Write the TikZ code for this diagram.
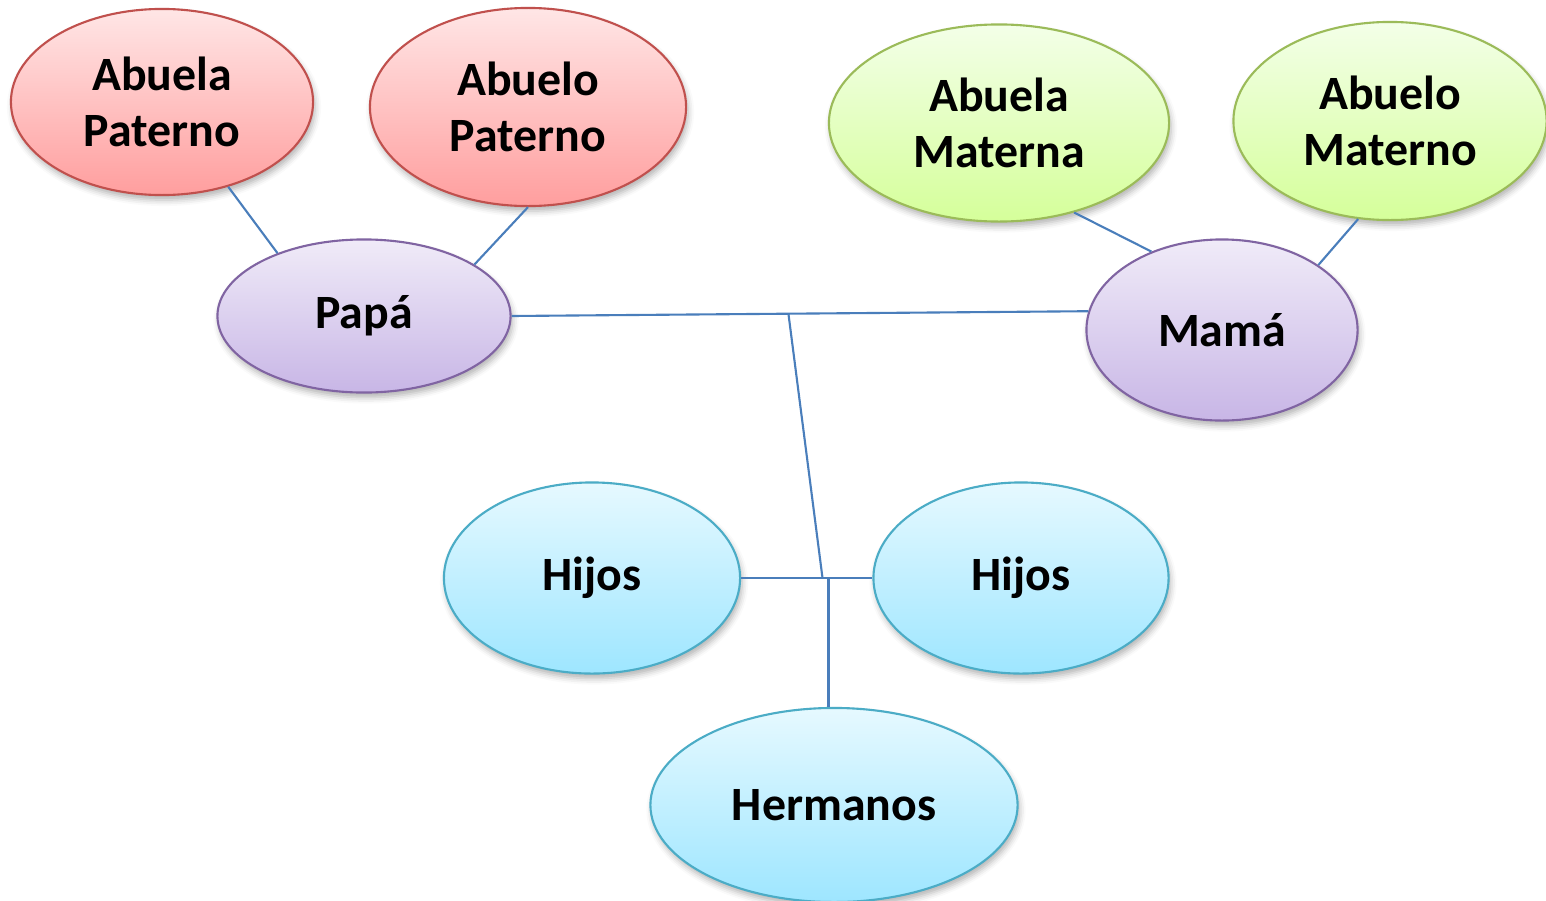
\documentclass[tikz,border=0pt]{standalone}
\usepackage{fontspec}
\setmainfont{Carlito}
\usetikzlibrary{shapes.geometric,shadows.blur,calc}
\definecolor{lineblue}{HTML}{4A7EBB}
\definecolor{redline}{HTML}{C0504D}
\definecolor{redtop}{HTML}{FFE6E6}
\definecolor{redbot}{HTML}{FF9E9E}
\definecolor{greenline}{HTML}{9BBB59}
\definecolor{greentop}{HTML}{F3FFE8}
\definecolor{greenbot}{HTML}{D5FF9A}
\definecolor{purpleline}{HTML}{8064A2}
\definecolor{purpletop}{HTML}{F0EBF8}
\definecolor{purplebot}{HTML}{C8B6E6}
\definecolor{blueline}{HTML}{4BACC6}
\definecolor{bluetop}{HTML}{E6F9FF}
\definecolor{bluebot}{HTML}{9EE6FF}
\begin{document}
\begin{tikzpicture}[x=0.01cm,y=-0.01cm,
    person/.style={ellipse,inner sep=0pt,line width=0.6pt,align=center,
        font=\fontsize{13.6}{16}\selectfont\bfseries,
        blur shadow={shadow xshift=0.02cm,shadow yshift=-0.05cm,shadow blur radius=0.06cm,shadow opacity=30}},
    paterno/.style={person,draw=redline,top color=redtop,bottom color=redbot},
    materno/.style={person,draw=greenline,top color=greentop,bottom color=greenbot},
    padre/.style={person,draw=purpleline,top color=purpletop,bottom color=purplebot},
    hijo/.style={person,draw=blueline,top color=bluetop,bottom color=bluebot},
    link/.style={draw=lineblue,line width=0.6pt}]
    \useasboundingbox (0,0) rectangle (1546,900);
    %% abuelos
    \node[paterno,minimum width=3.02cm,minimum height=1.86cm] (abuelaP) at (162,102) {Abuela\\Paterno};
    \node[paterno,minimum width=3.16cm,minimum height=1.98cm] (abueloP) at (528,107) {Abuelo\\Paterno};
    \node[materno,minimum width=3.40cm,minimum height=1.97cm] (abuelaM) at (999,123) {Abuela\\Materna};
    \node[materno,minimum width=3.13cm,minimum height=1.98cm] (abueloM) at (1390,121) {Abuelo\\Materno};
    %% padres
    \node[padre,minimum width=2.93cm,minimum height=1.53cm] (papa) at (364,316) {Papá};
    \node[padre,minimum width=2.71cm,minimum height=1.81cm] (mama) at (1222,330) {Mamá};
    %% hijos
    \node[hijo,minimum width=2.96cm,minimum height=1.91cm] (hijo1) at (592,578) {Hijos};
    \node[hijo,minimum width=2.95cm,minimum height=1.91cm] (hijo2) at (1021,578) {Hijos};
    \node[hijo,minimum width=3.67cm,minimum height=1.94cm] (hermanos) at (834,805) {Hermanos};
    %% lineas
    \draw[link] (abuelaP.-52) -- (papa.144);
    \draw[link] (abueloP.south) -- (papa.25);
    \draw[link] (abuelaM.-50) -- (mama.132);
    \draw[link] (abueloM.-108) -- (mama.34);
    \draw[link] (papa.east) -- coordinate[pos=0.48] (union) (mama.172);
    \draw[link] (hijo1.east) -- coordinate[pos=0.62] (cruce) (hijo2.west);
    \draw[link] (union) -- (cruce);
    \coordinate (baja) at ($(cruce)+(6,0)$);
    \draw[link] (baja) -- (baja |- hermanos.north);
\end{tikzpicture}
\end{document}
